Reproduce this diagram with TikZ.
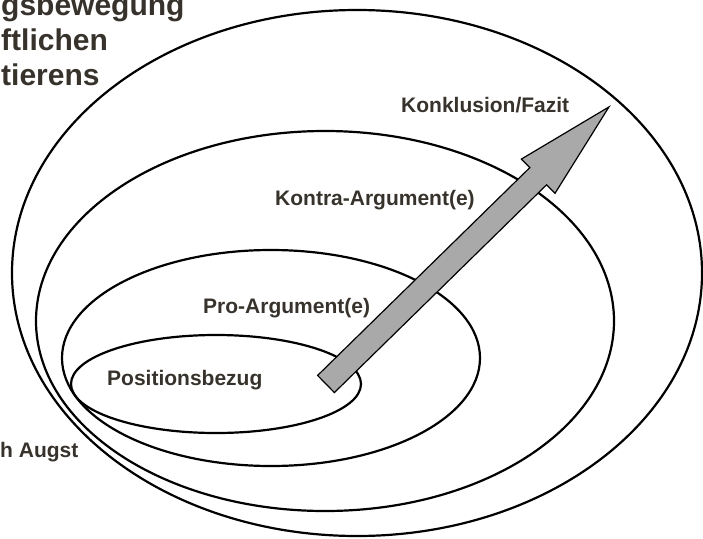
\documentclass[tikz,border=0pt]{standalone}
\usepackage{fontspec}
\setmainfont{Liberation Sans}
\definecolor{ink}{HTML}{000000}
\definecolor{label}{HTML}{37332C}
\definecolor{shaft}{HTML}{A9A9A9}
\tikzset{
  ring/.style={draw=ink, line width=2.2pt},
  lab/.style={font=\fontsize{21}{25}\selectfont\bfseries, text=label, inner sep=0pt, anchor=base west},
  heading/.style={font=\fontsize{30}{36}\selectfont\bfseries, text=label, inner sep=0pt, anchor=base west},
  pointer/.style={draw=ink, fill=shaft, line width=1.2pt, line join=miter},
}
\begin{document}
\begin{tikzpicture}[x=1pt, y=-1pt]
\useasboundingbox (0,0) rectangle (703,538);

% ---------------- nested rings ----------------
\draw[ring] (357,273) ellipse [x radius=345, y radius=263]; % Konklusion
\draw[ring] (325,321) ellipse [x radius=289, y radius=190]; % Kontra
\draw[ring] (271,358) ellipse [x radius=209, y radius=108]; % Pro
\draw[ring] (216,384) ellipse [x radius=145, y radius=49];  % Position

% ---------------- labels ----------------
\node[lab] (konkl)  at (401,112) {Konklusion/Fazit};
\node[lab] (kontra) at (275,205) {Kontra-Argument(e)};
\node[lab] (pro)    at (203,313) {Pro-Argument(e)};
\node[lab] (pos)    at (107,385) {Positionsbezug};
\node[lab] (quelle) at (0,457)   {h Augst};

% ---------------- title (cut at the left edge) ----------------
\node[heading] (titleA) at (1,15) {gsbewegung};
\node[heading] (titleB) at (1,50) {ftlichen};
\node[heading] (titleC) at (1,85) {tierens};

% ---------------- big arrow from position to conclusion ----------------
\begin{scope}[shift={(326,384)}, rotate=44.4]
  \draw[pointer] (0,-12) -- (297,-12) -- (297,-24) -- (396,0)
    -- (297,24) -- (297,12) -- (0,12) -- cycle;
\end{scope}

\end{tikzpicture}
\end{document}
